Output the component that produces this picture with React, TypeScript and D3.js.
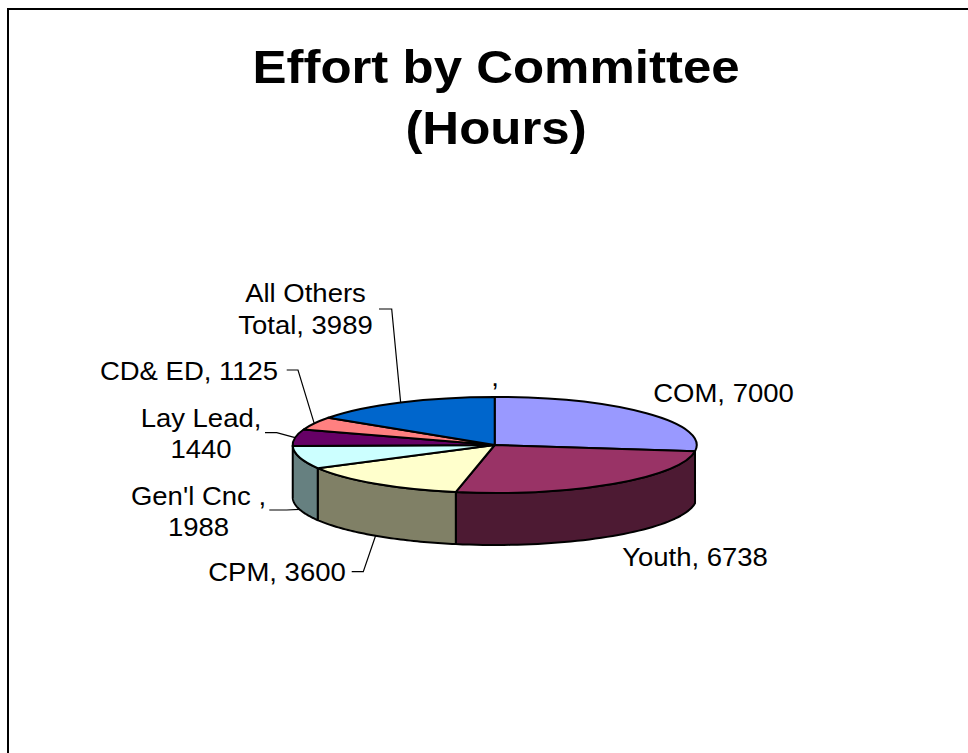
import React from "react";
import * as d3 from "d3";

const categories = ["", "COM", "Youth", "CPM", "Gen'l Cnc ", "Lay Lead", "CD& ED", "All Others Total"];
const hours = [0, 7000, 6738, 3600, 1988, 1440, 1125, 3989];
const topColors = ["#000000", "#9999FF", "#993366", "#FFFFCC", "#CCFFFF", "#660066", "#FF8080", "#0066CC"];
const sideColors = ["#000000", "#4D4D80", "#4D1A33", "#808066", "#668080", "#330033", "#804040", "#003366"];
const titleLines = ["Effort by Committee", "(Hours)"];

const W = 968, H = 753;
const cx = 494.7, cy = 445, rx = 202, ry = 48, depth = 52;
const FONT = '"Liberation Sans", Arial, sans-serif';

// label layout, index-aligned with categories
const labelLines: string[][] = [
  [","], ["COM, 7000"], ["Youth, 6738"], ["CPM, 3600"], ["Gen'l Cnc ,", "1988"],
  ["Lay Lead,", "1440"], ["CD& ED, 1125"], ["All Others", "Total, 3989"],
];
const labelX = [495, 723.5, 695, 277, 198.5, 201, 189, 305.5];
const labelY = [386, 402, 566, 581, 505, 426.5, 380, 302];
const lineGap = [0, 0, 0, 0, 31, 31.5, 0, 32.3];
const labelSize = 25.5;
const labelStretch = 27.5 / 25.5;
const titleSize = 46.6;
const titleStretch = 51 / 46.6;
// elbow of each leader line: [text end x, knee x, y]; null = no leader
const leaderKnee: ([number, number, number] | null)[] = [
  null, null, null,
  [351.7, 363.3, 571.7],
  [269.3, 286.7, 510],
  [265, 276.7, 432.7],
  [286.7, 298, 370],
  [379, 391.7, 309],
];

const slices = d3.pie<number>().sort(null).value((d) => d)(hours);
const rim = (t: number): [number, number] => [rx * Math.sin(t), -ry * Math.cos(t)];
const topArc = d3.arc<d3.PieArcDatum<number>>().innerRadius(0).outerRadius(1);
const line = d3.line();
const HALF = Math.PI / 2;

function wallPath(a0: number, a1: number) {
  const s = Math.max(a0, HALF), e = Math.min(a1, 3 * HALF);
  const ts = d3.range(0, 49).map((i) => s + ((e - s) * i) / 48);
  const top = ts.map(rim);
  const bottom = ts.map((t) => { const [x, y] = rim(t); return [x, y + depth] as [number, number]; }).reverse();
  return line([...top, ...bottom]) + "Z";
}

export default function App() {
  return (
    <svg width={W} height={H} viewBox={`0 0 ${W} ${H}`} style={{ position: "absolute", left: 0, top: 0, background: "#fff" }}>
      <path d={`M8 ${H}V9H${W}`} fill="none" stroke="#000" strokeWidth={2} />
      <g fontFamily={FONT} fontWeight="bold" fontSize={titleSize} textAnchor="middle" fill="#000">
        {titleLines.map((t, i) => (
          <text key={t} transform={`translate(496,${83 + i * 61}) scale(${titleStretch},1)`}>{t}</text>
        ))}
      </g>
      <g transform={`translate(${cx},${cy})`} stroke="#000" strokeWidth={2} strokeLinejoin="round">
        {slices.map((s, i) => {
          const mid = (s.startAngle + s.endAngle) / 2;
          if (s.value === 0 || mid <= HALF || mid >= 3 * HALF) return null;
          return <path key={i} d={wallPath(s.startAngle, s.endAngle)} fill={sideColors[i]} />;
        })}
        <g transform={`scale(${rx},${ry})`}>
          {slices.map((s, i) =>
            s.value === 0 ? null : (
              <path key={i} d={topArc(s) as string} fill={topColors[i]} vectorEffect="non-scaling-stroke" />
            )
          )}
        </g>
      </g>
      <g fill="none" stroke="#000" strokeWidth={1.2}>
        {slices.map((s, i) => {
          const k = leaderKnee[i];
          if (!k) return null;
          const mid = (s.startAngle + s.endAngle) / 2;
          const [x, y] = rim(mid);
          const isFront = mid > HALF && mid < 3 * HALF;
          const end: [number, number] = [cx + x, cy + y + (isFront ? depth : 0)];
          return <path key={i} d={line([[k[0], k[2]], [k[1], k[2]], end]) as string} />;
        })}
      </g>
      <g fontFamily={FONT} fontSize={labelSize} textAnchor="middle" fill="#000">
        {labelLines.map((ls, i) =>
          ls.map((t, j) => (
            <text key={categories[i] + j} transform={`translate(${labelX[i]},${labelY[i] + j * lineGap[i]}) scale(${labelStretch},1)`}>{t}</text>
          ))
        )}
      </g>
    </svg>
  );
}
